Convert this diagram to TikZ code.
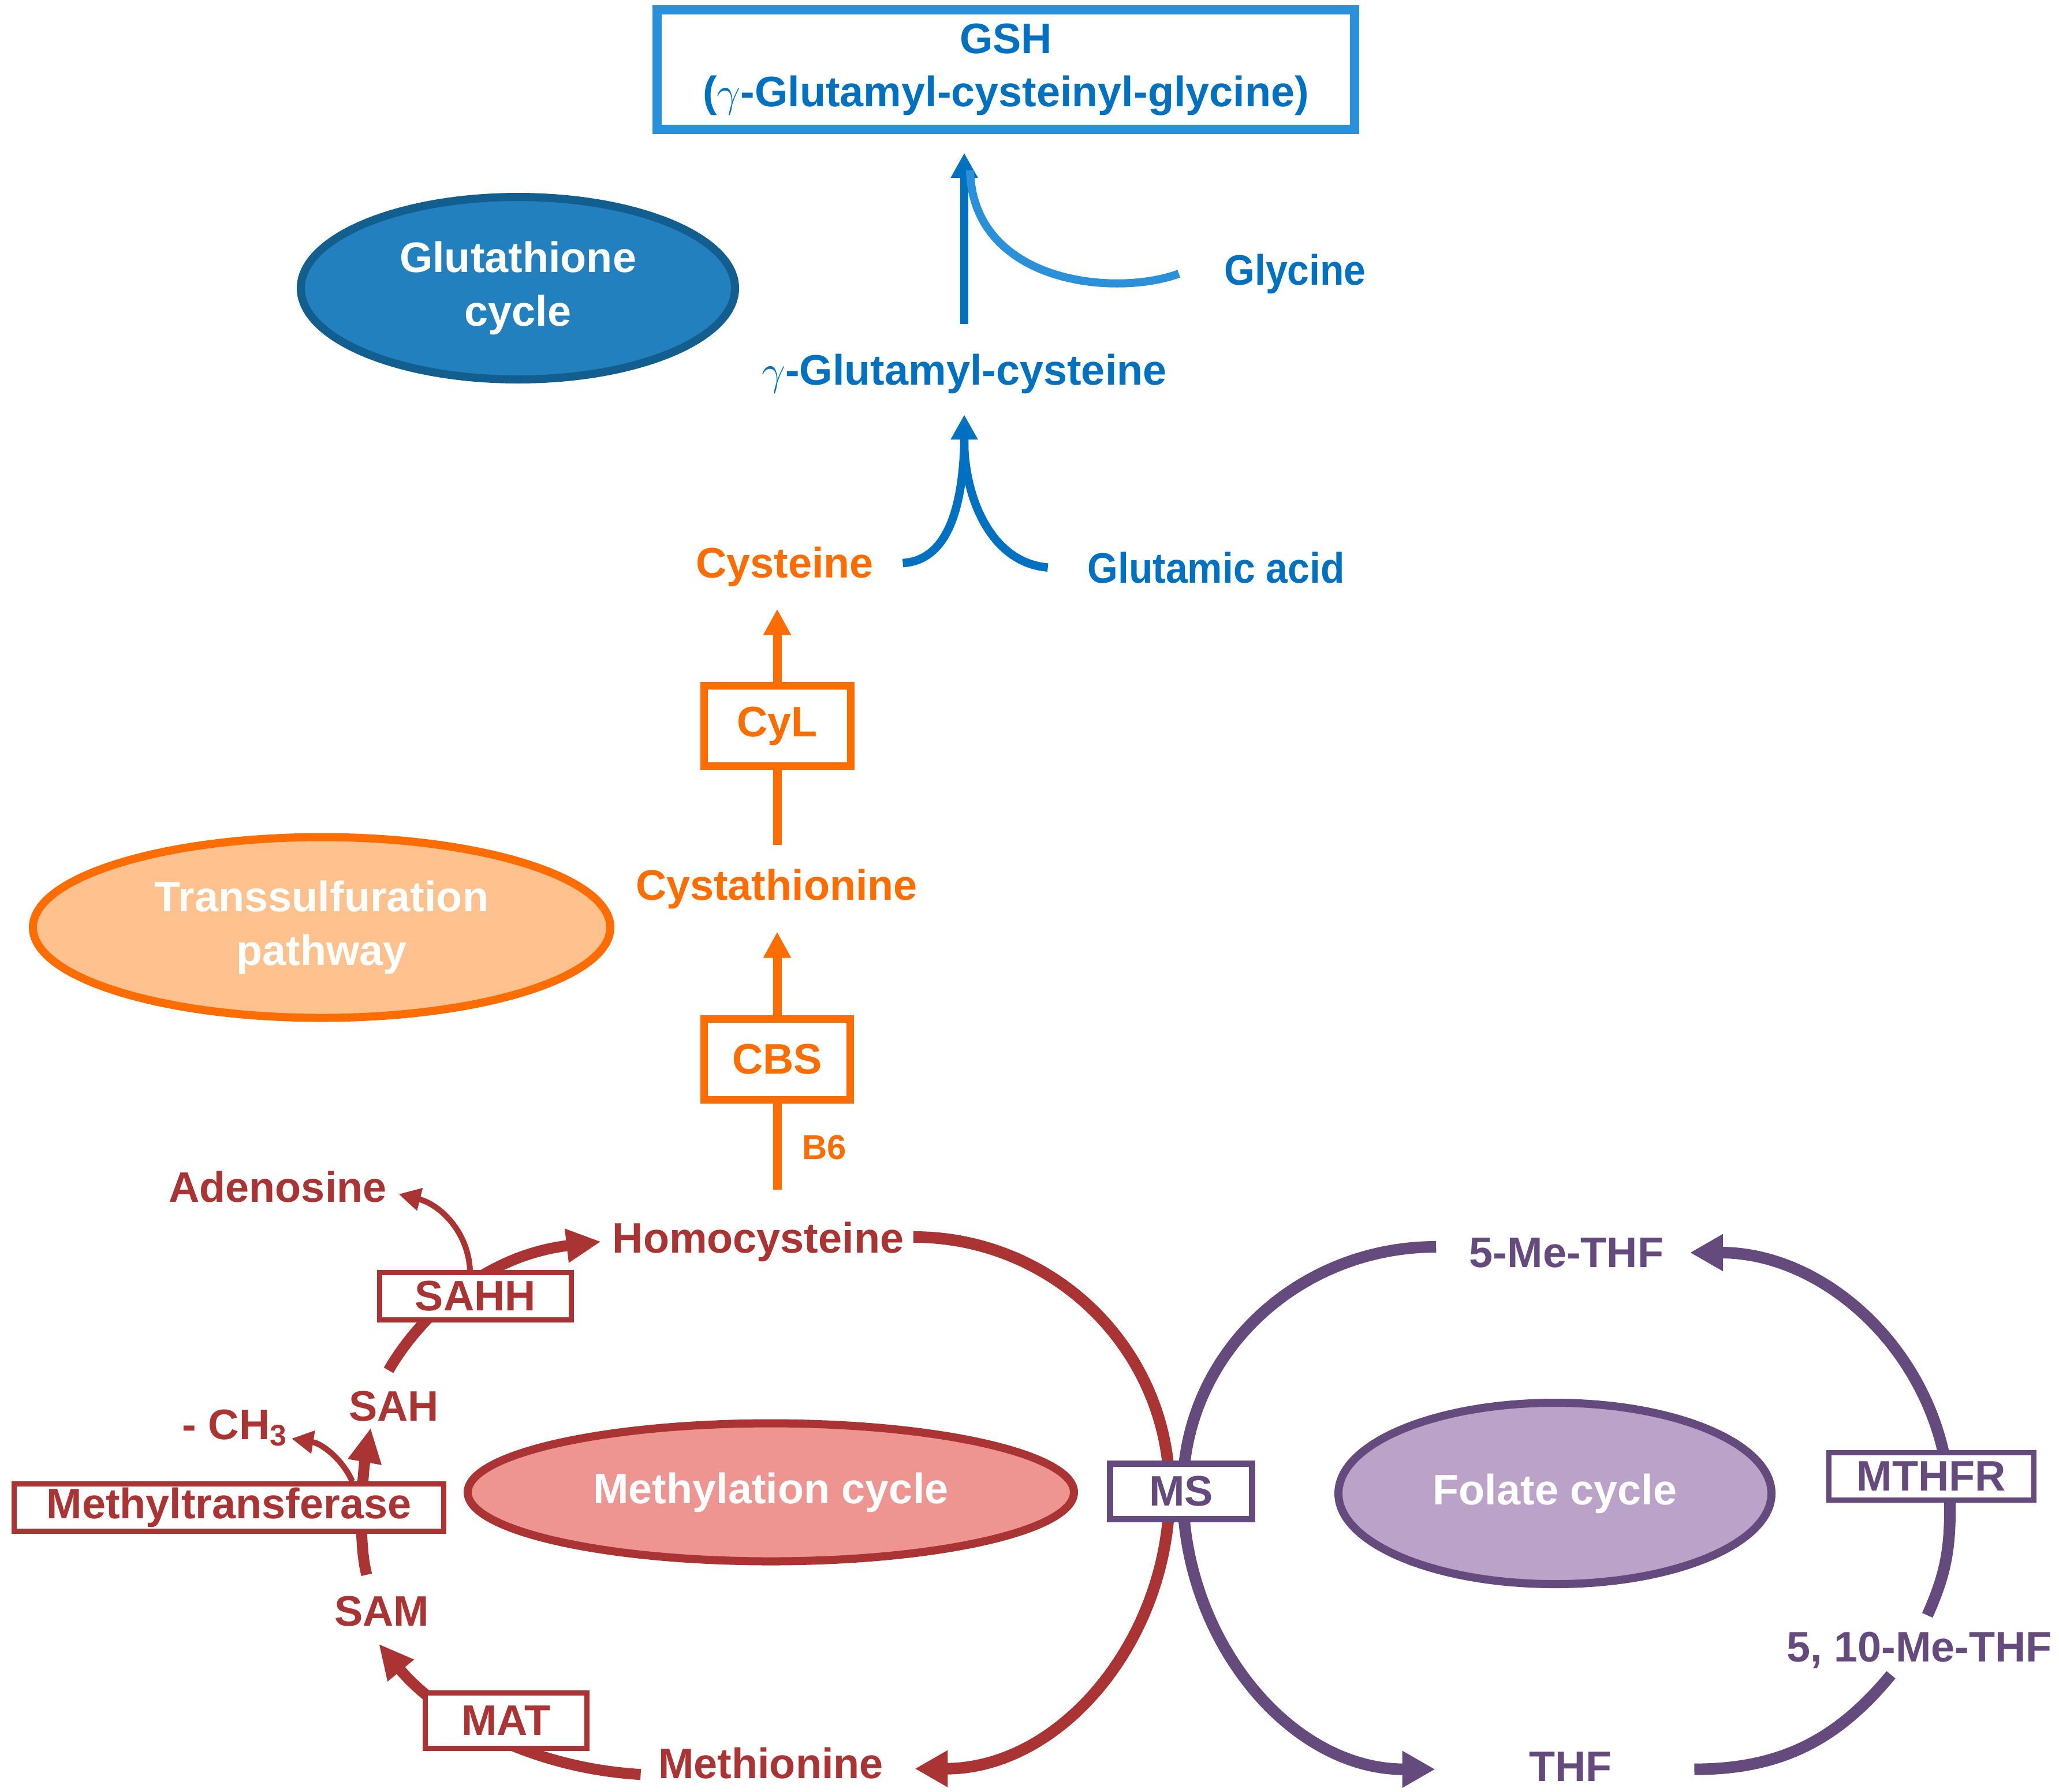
\documentclass[tikz,border=0pt]{standalone}
\usepackage{fontspec}
\setmainfont{Liberation Sans}
\newfontfamily\narrowsans[FakeStretch=0.92]{Liberation Sans}
\usetikzlibrary{arrows.meta,shapes.geometric,backgrounds}

\definecolor{metred}{HTML}{AA3333}
\definecolor{metpink}{HTML}{EE9591}
\definecolor{tsorange}{HTML}{FF6D00}
\definecolor{tspeach}{HTML}{FFC18E}
\definecolor{gsblue}{HTML}{0070C0}
\definecolor{gslight}{HTML}{2A90D9}
\definecolor{gsfill}{HTML}{2380BE}
\definecolor{gsdark}{HTML}{115E8F}
\definecolor{folpurple}{HTML}{654A7E}
\definecolor{follilac}{HTML}{BBA2C8}

\tikzset{
    lbl/.style={font=\fontsize{21}{26.4}\selectfont\bfseries, inner sep=0pt, anchor=base},
    narrowlbl/.style={lbl, font=\fontsize{21}{26.4}\selectfont\narrowsans\bfseries},
    enzyme/.style={font=\fontsize{21}{26.4}\selectfont\bfseries, inner sep=0pt, draw, fill=white},
    cyclenode/.style={ellipse, font=\fontsize{21}{26.4}\selectfont\bfseries, text=white, align=center,
        inner sep=0pt, line width=0.14cm},
}

\begin{document}
\begin{tikzpicture}[
    bigarrow/.style={line width=0.20cm, -{Triangle[length=0.57cm,width=0.60cm]}},
    midarrow/.style={line width=0.19cm, -{Triangle[length=0.60cm,width=0.55cm]}},
    smallarrow/.style={line width=0.10cm, -{Triangle[length=0.38cm,width=0.38cm]}},
    tsarrow/.style={tsorange, line width=0.15cm, -{Triangle[length=0.45cm,width=0.45cm]}},
    gsarrow/.style={gsblue, line width=0.145cm, -{Triangle[length=0.43cm,width=0.44cm]}},
]
    \useasboundingbox (0,0) rectangle (35.66,-31.02);

    % glutathione cycle
    \node[cyclenode, fill=gsfill, draw=gsdark,
          minimum width=7.52cm, minimum height=3.16cm] (gscycle) at (8.97,-4.99) {Glutathione\\cycle};
    \node[enzyme, text=gsblue, draw=gslight, line width=0.16cm, align=center,
          minimum width=12.08cm, minimum height=2.07cm] (gsh) at (17.42,-1.205)
          {GSH\\($\gamma$-Glutamyl-cysteinyl-glycine)};
    \node[lbl, text=gsblue] (gglucys) at (16.70,-6.66) {$\gamma$-Glutamyl-cysteine};
    \node[narrowlbl, text=gsblue] (glycine) at (22.43,-4.93) {Glycine};
    \node[narrowlbl, text=gsblue] (glutamic) at (21.06,-10.09) {Glutamic acid};

    % transsulfuration pathway
    \node[cyclenode, fill=tspeach, draw=tsorange,
          minimum width=10.0cm, minimum height=3.13cm] (tscycle) at (5.57,-16.06) {Transsulfuration\\pathway};
    \node[lbl, text=tsorange] (cys) at (13.59,-10.00) {Cysteine};
    \node[enzyme, text=tsorange, draw=tsorange, line width=0.13cm,
          minimum width=2.54cm, minimum height=1.39cm] (cyl) at (13.46,-12.57) {CyL};
    \node[lbl, text=tsorange] (cysta) at (13.45,-15.58) {Cystathionine};
    \node[enzyme, text=tsorange, draw=tsorange, line width=0.13cm,
          minimum width=2.53cm, minimum height=1.40cm] (cbs) at (13.46,-18.345) {CBS};
    \node[lbl, text=tsorange, font=\fontsize{17}{20}\selectfont\bfseries] (bsix) at (14.28,-20.07) {B6};

    % methylation cycle
    \node[cyclenode, fill=metpink, draw=metred,
          minimum width=10.50cm, minimum height=2.39cm] (metcycle) at (13.35,-25.84) {Methylation cycle};
    \node[lbl, text=metred] (hcy) at (13.13,-21.69) {Homocysteine};
    \node[lbl, text=metred] (aden) at (4.81,-20.81) {Adenosine};
    \node[enzyme, text=metred, draw=metred, line width=0.09cm,
          minimum width=3.32cm, minimum height=0.82cm] (sahh) at (8.235,-22.445) {SAHH};
    \node[lbl, text=metred] (sah) at (6.82,-24.60) {SAH};
    \node[lbl, text=metred] (methyl) at (4.07,-24.92) {- CH\textsubscript{3}};
    \node[enzyme, text=metred, draw=metred, line width=0.09cm,
          minimum width=7.44cm, minimum height=0.82cm] (mtase) at (3.965,-26.105) {Methyltransferase};
    \node[lbl, text=metred] (sam) at (6.61,-28.15) {SAM};
    \node[enzyme, text=metred, draw=metred, line width=0.09cm,
          minimum width=2.80cm, minimum height=0.96cm] (mat) at (8.765,-29.795) {MAT};
    \node[lbl, text=metred] (met) at (13.35,-30.79) {Methionine};

    % folate cycle
    \node[cyclenode, fill=follilac, draw=folpurple,
          minimum width=7.50cm, minimum height=3.14cm] (folcycle) at (26.93,-25.86) {Folate cycle};
    \node[enzyme, text=folpurple, draw=folpurple, line width=0.11cm,
          minimum width=2.46cm, minimum height=0.96cm] (ms) at (20.455,-25.825) {MS};
    \node[enzyme, text=folpurple, draw=folpurple, line width=0.09cm,
          minimum width=3.55cm, minimum height=0.82cm] (mthfr) at (33.45,-25.565) {MTHFR};
    \node[lbl, text=folpurple] (mthf) at (27.13,-21.94) {5-Me-THF};
    \node[lbl, text=folpurple] (thf) at (27.20,-30.84) {THF};
    \node[lbl, text=folpurple] (mthften) at (33.24,-28.77) {5, 10-Me-THF};

    \coordinate (folbot) at (32.75,-29.00);
    \coordinate (foltop) at (33.38,-27.97);
    \coordinate (folright) at (33.77,-26.15);

    \begin{pgfonlayer}{background}
    % glutathione synthesis
    \draw[gsarrow] ([yshift=5.1mm]gglucys.north) -- ++(0,2.96);
    \draw[gslight, line width=0.14cm]
        ([xshift=-7.8mm]glycine.west) .. controls (19.3,-5.15) and (16.85,-4.9) .. (16.80,-2.95);
    \draw[gsblue, line width=0.145cm]
        ([xshift=5mm,yshift=0.6mm]cys.east) .. controls (16.45,-9.7) and (16.66,-8.7) .. (16.70,-7.75);
    \draw[gsarrow]
        ([xshift=-6.8mm]glutamic.west) .. controls (17.2,-9.75) and (16.74,-8.7) .. (16.70,-7.75) -- (16.70,-7.18);

    % transsulfuration
    \draw[tsarrow] (cyl.north) -- ++(0,1.265);
    \draw[tsorange, line width=0.15cm] (cyl.south) -- ++(0,-1.295);
    \draw[tsarrow] (cbs.north) -- ++(0,1.445);
    \draw[tsorange, line width=0.15cm] (cbs.south) -- ++(0,-1.485);

    % methylation
    \draw[metred, midarrow] ([xshift=-0.9mm,yshift=3.5mm]sah.north)
        .. controls (7.2,-22.9) and (8.3,-21.75) .. ([xshift=-1.9mm]hcy.west);
    \draw[metred, smallarrow] ([xshift=-0.95mm]sahh.north)
        .. controls (8.1,-21.3) and (7.6,-20.85) .. ([xshift=2mm,yshift=-1.3mm]aden.east);
    \draw[metred, midarrow] ([xshift=-2.6mm,yshift=3.6mm]sam.north)
        .. controls (6.18,-26.6) and (6.30,-25.4) .. ([xshift=-4mm,yshift=-1.1mm]sah.south);
    \draw[metred, smallarrow] ([xshift=2.135cm]mtase.north)
        .. controls (5.95,-25.3) and (5.6,-25.0) .. ([xshift=0.6mm,yshift=-1.9mm]methyl.east);
    \draw[metred, midarrow] ([xshift=-3mm,yshift=-2mm]met.west)
        .. controls (9.0,-30.6) and (7.5,-29.6) .. ([xshift=-0.5mm,yshift=-3mm]sam.south);
    \draw[metred, bigarrow] ([xshift=1.6mm,yshift=0.8mm]hcy.east) to[out=0,in=90] ([xshift=-2mm]ms.center)
        to[out=-90,in=0] ([xshift=5.4mm,yshift=-1mm]met.east);

    % folate
    \draw[folpurple, bigarrow] ([xshift=-5.7mm,yshift=1mm]mthf.west) to[out=180,in=90] ([xshift=0.3mm]ms.center)
        to[out=-90,in=180] ([xshift=-16.2mm,yshift=-0.5mm]thf.west);
    \draw[folpurple, line width=0.20cm] ([xshift=14.2mm,yshift=-0.5mm]thf.east) to[out=0,in=-129.5] (folbot);
    \draw[folpurple, bigarrow] (foltop) to[out=66,in=-90] (folright) to[out=90,in=0] ([xshift=4.5mm]mthf.east);
    \end{pgfonlayer}
\end{tikzpicture}
\end{document}
